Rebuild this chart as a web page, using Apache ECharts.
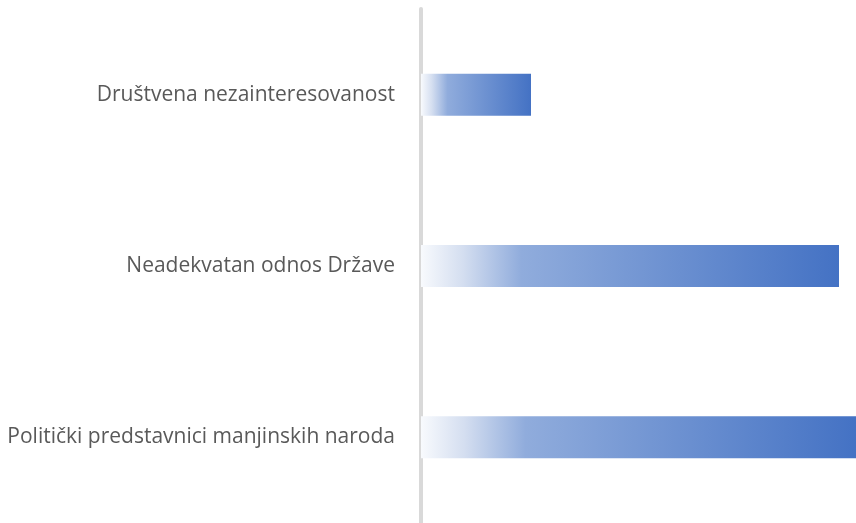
<!DOCTYPE html>
<html>
<head>
<meta charset="utf-8">
<script src="https://cdn.jsdelivr.net/npm/echarts@6/dist/echarts.min.js"></script>
<style>
  html, body { margin: 0; padding: 0; background: #fff; }
  #main { width: 856px; height: 523px; }
</style>
</head>
<body>
<div id="main"></div>
<script>
// categories (top to bottom) and bar values
const categories = [
  'Društvena nezainteresovanost',
  'Neadekvatan odnos Države',
  'Politički predstavnici manjinskih naroda'
]
const values = [11.0, 41.8, 43.5]

const chart = echarts.init(document.getElementById('main'))

chart.setOption({
  animation: false,
  grid: {
    left: 421,
    right: 0,
    top: 9,
    height: 518
  },
  xAxis: {
    type: 'value',
    min: 0,
    max: 43.5,
    show: false
  },
  yAxis: {
    type: 'category',
    inverse: true,
    data: categories,
    offset: 2,
    axisLine: {
      show: true,
      lineStyle: { color: '#d9d9d9', width: 4 }
    },
    axisTick: { show: false },
    axisLabel: {
      margin: 24,
      color: '#595959',
      fontFamily: 'Open Sans',
      fontSize: 21
    }
  },
  series: [
    {
      type: 'bar',
      data: values,
      barWidth: 42,
      itemStyle: {
        color: new echarts.graphic.LinearGradient(0, 0, 1, 0, [
          { offset: 0, color: '#f8fafd' },
          { offset: 0.1, color: '#d4def0' },
          { offset: 0.24, color: '#90acdc' },
          { offset: 1, color: '#4472c4' }
        ])
      }
    }
  ]
})
</script>
</body>
</html>
